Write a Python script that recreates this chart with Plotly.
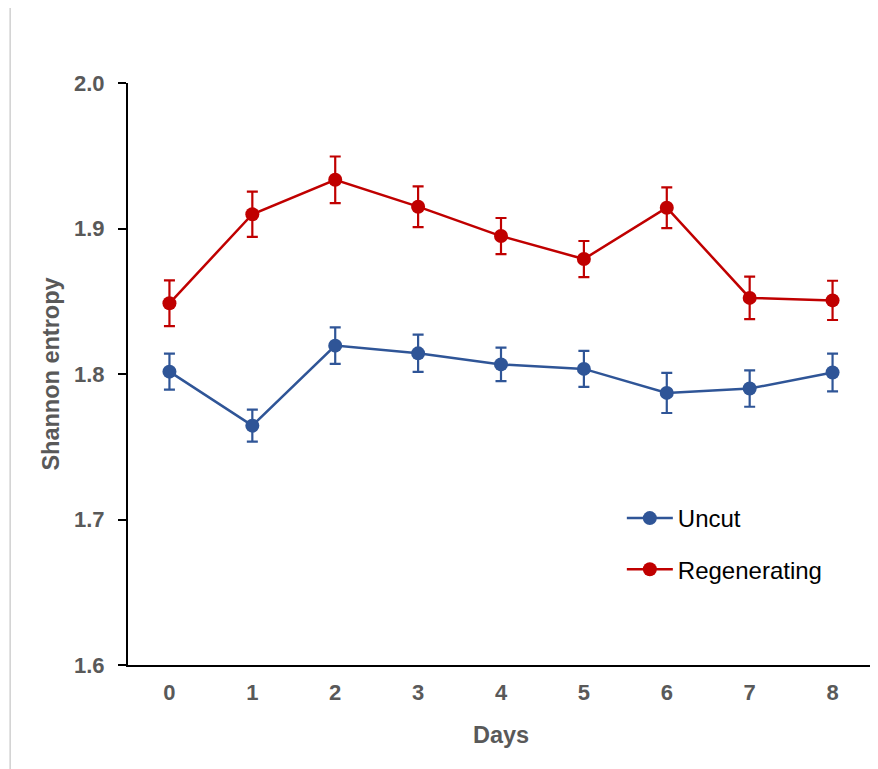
import plotly.graph_objects as go

days = [0, 1, 2, 3, 4, 5, 6, 7, 8]
uncut = [1.8016, 1.7645, 1.8195, 1.8142, 1.8066, 1.8035, 1.7870, 1.7900, 1.8010]
uncut_err = [0.0124, 0.0110, 0.0126, 0.0128, 0.0115, 0.0124, 0.0138, 0.0125, 0.0130]
regen = [1.8486, 1.9098, 1.9335, 1.9150, 1.8948, 1.8790, 1.9143, 1.8523, 1.8506]
regen_err = [0.0157, 0.0155, 0.0160, 0.0140, 0.0124, 0.0124, 0.0140, 0.0146, 0.0135]

BLUE = "#2F5597"
RED = "#C00000"
GREY = "#595959"

OFF = 8  # page body margin
W, H = 878 - OFF, 769 - OFF
L, R, T, B = 127.5 - OFF, 3.5, 83 - OFF, 104

fig = go.Figure()
fig.add_trace(go.Scatter(
    x=days, y=uncut, name="Uncut", mode="lines+markers",
    line=dict(color=BLUE, width=2.5), marker=dict(color=BLUE, size=14),
    error_y=dict(type="data", array=uncut_err, color=BLUE, thickness=2.2, width=5.5),
    legendgroup="a"))
fig.add_trace(go.Scatter(
    x=days, y=regen, name="Regenerating", mode="lines+markers",
    line=dict(color=RED, width=2.5), marker=dict(color=RED, size=14),
    error_y=dict(type="data", array=regen_err, color=RED, thickness=2.2, width=5.5),
    legendgroup="b"))

pw = W - L - R
ph = H - T - B
def px_x(p):
    return (p - OFF - L) / pw
def px_y(p):
    return (H - B - (p - OFF)) / ph

fig.add_shape(type="line", xref="paper", yref="paper",
              x0=px_x(9.5), x1=px_x(9.5), y0=px_y(780), y1=px_y(0),
              line=dict(color="#D0D0D0", width=1.5), layer="below")

fig.update_layout(
    width=W, height=H,
    margin=dict(l=L, r=R, t=T, b=B, autoexpand=False),
    paper_bgcolor="white", plot_bgcolor="white",
    font=dict(family="Liberation Sans, Arial, sans-serif"),
    xaxis=dict(
        range=[-0.5, 8.5], tickmode="array", tickvals=days,
        ticktext=[str(d) for d in days], showgrid=False, zeroline=False,
        showline=True, linecolor="black", linewidth=2, ticks="",
        ticklabelstandoff=7,
        tickfont=dict(size=22, color=GREY, weight="bold"),
        title=dict(text="<b>Days</b>", font=dict(size=23.5, color=GREY), standoff=22),
        fixedrange=True),
    yaxis=dict(
        range=[1.6, 2.0], tickmode="array", tickvals=[1.6, 1.7, 1.8, 1.9, 2.0],
        ticktext=["1.6", "1.7", "1.8", "1.9", "2.0"], showgrid=False, zeroline=False,
        showline=True, linecolor="black", linewidth=2, ticks="outside",
        ticklen=8, tickwidth=2, tickcolor="black",
        ticklabelstandoff=9,
        tickfont=dict(size=22, color=GREY, weight="bold"),
        title=dict(text="<b>Shannon entropy</b>", font=dict(size=23.5, color=GREY), standoff=8),
        fixedrange=True),
    legend=dict(x=px_x(622), y=px_y(496), xanchor="left", yanchor="top",
                font=dict(size=24, color="black"), tracegroupgap=17,
                itemwidth=46, bgcolor="rgba(0,0,0,0)"),
    showlegend=True,
)

fig.write_html("out.html")
